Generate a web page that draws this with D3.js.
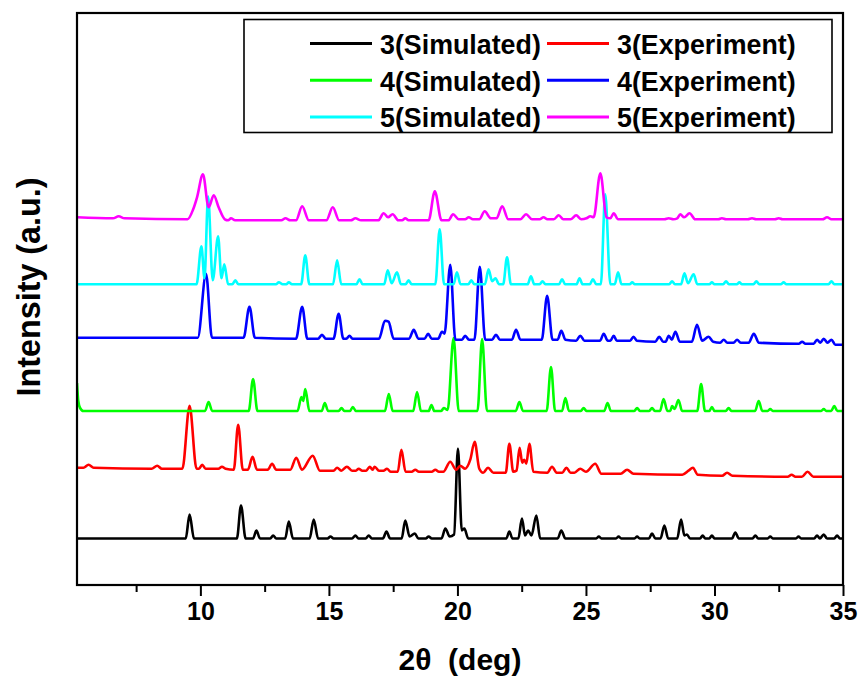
<!DOCTYPE html>
<html>
<head>
<meta charset="utf-8">
<script src="https://cdn.jsdelivr.net/npm/d3@7"></script>
<style>
  body { margin: 0; background: #fff; }
  text { font-family: "Liberation Sans", Arial, sans-serif; font-weight: bold; }
</style>
</head>
<body>
<div id="chart"></div>
<script>
// series names, colours and vertical offsets (a.u.)
var names = ['3(Simulated)', '3(Experiment)', '4(Simulated)', '4(Experiment)', '5(Simulated)', '5(Experiment)'];
var colors = ['#000000', '#ff0000', '#00ff00', '#0000ff', '#00ffff', '#ff00ff'];
var offsets = [46.5, 117.3, 174, 247.3, 300.7, 367.7];
var xTicks = [10, 15, 20, 25, 30, 35];
var xMinor = [7.5, 12.5, 17.5, 22.5, 27.5, 32.5];

// patterns as [2theta, intensity]
var sim3 = [[5.2,0],[9.43,0],[9.58,24],[9.75,0],[11.42,0],[11.58,33],[11.76,0],[12.05,0],[12.18,8],[12.32,0],
  [12.72,0],[12.83,3],[12.95,0],[13.3,0],[13.44,17],[13.6,0],[14.25,0],[14.41,19],[14.58,0],[14.95,0],[15.06,2],[15.18,0],
  [15.9,0],[16.03,3],[16.15,0],[16.43,0],[16.55,3],[16.67,0],[17.1,0],[17.24,7],[17.38,0],[17.83,0],[17.97,18],[18.14,2],
  [18.34,5],[18.48,0],[18.77,0],[18.88,2],[19.0,0],[19.38,0],[19.53,10],[19.7,2],[19.87,4],[20.02,90],[20.17,8],[20.27,10],[20.42,0],
  [21.9,0],[22.02,7],[22.14,0],[22.37,0],[22.51,20],[22.63,3],[22.75,8],[22.88,3],[23.07,23],[23.22,0],[23.9,0],[24.04,8],[24.2,0],
  [25.4,0],[25.5,2],[25.6,0],[26.17,0],[26.27,2],[26.37,0],[26.89,0],[26.99,2],[27.09,0],[27.45,0],[27.57,5],[27.7,0],
  [27.9,0],[28.05,13],[28.2,0],[28.55,0],[28.7,19],[28.83,3],[28.93,4],[29.05,0],[29.44,0],[29.54,3],[29.64,0],
  [29.8,0],[29.9,3],[30.0,0],[30.68,0],[30.81,6],[30.95,0],[31.48,0],[31.59,3],[31.7,0],[32.07,0],[32.17,2],[32.27,0],
  [33.17,0],[33.27,2],[33.37,0],[33.88,0],[33.99,3],[34.1,0],[34.25,4],[34.38,0],[34.66,0],[34.77,3],[34.88,0],[35,0]];

var exp3 = [[5.2,0],[5.45,0],[5.65,3],[5.85,0],[8.1,-1],[8.32,2],[8.5,-1],[9.3,-1],[9.58,62],[9.85,-1],[9.95,-1],[10.07,3],[10.2,-1],
  [10.7,-1],[10.84,1],[10.98,-1],[11.3,-2],[11.47,43],[11.65,-2],[11.85,-2],[12.03,11],[12.2,-2],[12.62,-2],[12.79,4],[12.95,-2],
  [13.5,-2],[13.73,10],[13.95,-2],[14.37,12],[14.65,-3],[15.18,-3],[15.32,0],[15.48,-3],[15.7,1],[15.9,-3],[16.05,-3],[16.16,-1],[16.3,-3],
  [16.45,-3],[16.59,1],[16.7,-2],[16.78,1],[16.95,-3],[17.12,-3],[17.26,-1],[17.4,-4],[17.68,-4],[17.82,18],[17.98,-4],
  [18.22,-4],[18.36,-2],[18.5,-4],[19.0,-4],[19.14,-2],[19.28,-4],[19.45,-4],[19.72,6],[19.95,-2],[20.11,2],[20.3,-1],[20.5,8],
  [20.67,26],[20.85,-1],[21.0,-5],[21.19,0],[21.4,-5],[21.88,-5],[22.02,24],[22.17,-4],[22.3,-3],[22.42,20],[22.52,5],[22.6,8],
  [22.68,4],[22.8,24],[22.95,-4],[23.5,-5],[23.68,1],[23.86,-5],[24.08,-5],[24.24,0],[24.4,-5],[24.55,-5],[24.78,-1],[25.0,-4],
  [25.36,4],[25.6,-6],[26.35,-6],[26.6,-2],[26.85,-6],[28.75,-7],[28.99,-3],[29.16,0],[29.35,-7],[30.3,-8],[30.49,-5],[30.7,-8],
  [32.85,-9],[33.0,-7],[33.15,-9],[33.4,-9],[33.62,-4],[33.85,-9],[35,-9]];

var sim4 = [[5.2,28],[5.25,10],[5.32,3],[5.45,0],[10.18,0],[10.32,9],[10.46,0],[11.88,0],[12.05,32],[12.22,0],
  [13.78,0],[13.93,14],[14.0,10],[14.08,22],[14.24,0],[14.72,0],[14.84,8],[14.97,0],[15.38,0],[15.49,3],[15.6,0],
  [15.82,0],[15.93,4],[16.05,0],[17.18,0],[17.33,17],[17.48,0],[18.28,0],[18.43,19],[18.58,0],[18.88,0],[18.99,6],[19.1,0],
  [19.37,0],[19.47,3],[19.62,1],[19.85,73],[20.05,0],[20.78,0],[20.96,72],[21.15,0],[22.27,0],[22.41,9],[22.55,0],
  [23.47,0],[23.64,44],[23.8,0],[24.07,0],[24.2,13],[24.34,0],[24.8,0],[24.91,3],[25.02,0],[25.71,0],[25.84,8],[25.97,0],
  [26.88,0],[26.99,3],[27.1,0],[27.46,0],[27.57,3],[27.68,0],[27.88,0],[28.02,12],[28.17,0],[28.28,0],[28.35,5],[28.45,2],
  [28.6,11],[28.74,0],[29.33,0],[29.48,27],[29.63,0],[29.8,0],[29.9,4],[30.0,0],[30.44,0],[30.55,3],[30.66,0],
  [31.58,0],[31.72,10],[31.86,0],[32.07,0],[32.17,2],[32.27,0],[34.15,0],[34.25,2],[34.35,0],[34.54,0],[34.66,5],[34.78,0],[35,0]];

var exp4 = [[5.2,0],[9.9,0],[10.22,64],[10.45,0],[11.68,0],[11.91,31],[12.12,0],[13.72,-1],[13.96,31],[14.16,-1],
  [14.58,-1],[14.73,3],[14.88,-1],[15.18,-1],[15.38,24],[15.56,-1],[15.68,-1],[15.8,2],[15.92,-1],[16.95,-1],[17.18,17],
  [17.32,16],[17.52,-1],[18.12,-1],[18.3,8],[18.48,-1],[18.72,-1],[18.86,4],[19.0,-1],[19.25,-1],[19.4,6],[19.5,4],
  [19.72,73],[19.92,-2],[20.18,-2],[20.3,2],[20.45,-2],[20.66,-2],[20.87,71],[21.08,-2],[21.35,-2],[21.5,3],[21.65,-2],
  [22.12,-2],[22.28,8],[22.45,-2],[23.28,-2],[23.49,42],[23.7,-2],[23.9,-2],[24.04,7],[24.2,-2],[24.62,-3],[24.78,2],[24.94,-3],
  [25.55,-3],[25.69,4],[25.85,-3],[25.95,-3],[26.08,2],[26.2,-3],[26.72,-3],[26.85,1],[26.98,-3],[27.7,-4],[27.85,1],
  [28.0,-4],[28.1,-4],[28.22,2],[28.34,-2],[28.48,6],[28.65,-4],[29.12,-4],[29.32,13],[29.52,-3],[29.77,1],[29.95,-4],
  [30.22,-5],[30.36,-2],[30.5,-5],[30.74,-5],[30.88,-2],[31.02,-5],[31.33,-5],[31.53,4],[31.73,-5],[33.28,-6],[33.41,-4],
  [33.54,-6],[33.86,-6],[33.99,-2],[34.12,-5],[34.25,-1],[34.4,-5],[34.55,-2],[34.7,-7],[35,-7]];

var sim5 = [[5.2,0],[9.85,0],[10.04,38],[10.16,6],[10.3,88],[10.48,4],[10.69,48],[10.82,6],[10.93,20],[11.08,0],
  [11.24,0],[11.36,4],[11.48,0],[12.94,0],[13.05,2],[13.2,0],[13.34,0],[13.44,2],[13.56,0],[13.92,0],[14.08,29],[14.24,0],
  [15.16,0],[15.32,24],[15.48,0],[16.07,0],[16.19,5],[16.31,0],[17.15,0],[17.29,14],[17.44,1],[17.65,12],[17.8,0],
  [17.98,0],[18.1,4],[18.22,0],[19.14,0],[19.31,55],[19.48,0],[19.85,0],[19.98,12],[20.12,0],[20.42,0],[20.54,4],[20.66,0],
  [21.07,0],[21.21,15],[21.35,3],[21.48,6],[21.62,0],[21.78,0],[21.93,27],[22.08,0],[22.73,0],[22.86,8],[22.99,0],
  [23.2,0],[23.31,3],[23.42,0],[23.95,0],[24.07,5],[24.19,0],[24.63,0],[24.75,6],[24.87,0],[25.15,0],[25.27,5],[25.4,0],
  [25.58,0],[25.75,90],[25.95,0],[26.12,0],[26.25,12],[26.38,0],[26.7,0],[26.8,2],[26.9,0],[28.24,0],[28.35,3],[28.46,0],
  [28.7,0],[28.83,11],[28.97,1],[29.19,10],[29.33,0],[29.8,0],[29.9,2],[30.0,0],[30.34,0],[30.45,3],[30.56,0],
  [30.87,0],[30.97,2],[31.07,0],[31.52,0],[31.63,3],[31.74,0],[32.58,0],[32.69,2],[32.8,0],[34.44,0],[34.55,3],[34.66,0],[35,0]];

var exp5 = [[5.2,0],[6.6,-1],[6.82,1],[7.05,-1],[9.5,-2],[9.72,8],[9.87,20],[10.1,43],[10.32,10],[10.52,22],
  [10.71,10],[10.95,-2],[11.08,-3],[11.19,-1],[11.35,-3],[13.15,-3],[13.31,-1],[13.5,-3],[13.72,-3],[13.96,11],[14.22,-3],
  [14.9,-3],[15.15,10],[15.4,-3],[15.85,-3],[16.03,-1],[16.25,-3],[16.92,-3],[17.13,4],[17.3,0],[17.48,3],[17.7,-3],
  [17.85,-3],[17.97,-1],[18.1,-3],[18.88,-3],[19.12,26],[19.38,-3],[19.65,-3],[19.83,3],[20.05,-2],[20.3,-2],[20.44,0],
  [20.6,-2],[20.85,-2],[21.06,6],[21.3,-1],[21.52,-1],[21.74,11],[21.98,-2],[22.45,-2],[22.67,3],[22.9,-2],[23.2,-2],
  [23.35,0],[23.5,-2],[23.75,-2],[23.94,2],[24.12,-2],[24.4,-2],[24.62,2],[24.82,-2],[25.02,-1],[25.17,1],[25.3,0],
  [25.56,44],[25.8,0],[25.95,-1],[26.08,4],[26.25,-2],[28.05,-2],[28.22,-1],[28.4,-2],[28.55,-1],[28.67,3],[28.82,0],
  [29.03,4],[29.25,-2],[30.15,-2],[30.29,-1],[30.45,-2],[31.3,-2],[31.46,-1],[31.62,-2],[32.35,-2],[32.5,-1],[32.65,-2],
  [34.2,-2],[34.38,0],[34.55,-2],[35,-2]];

var series = [sim3, exp3, sim4, exp4, sim5, exp5];

// set the dimensions and margins of the graph
var W = 860, H = 678;
var margin = { top: 13, right: 17, bottom: 93, left: 77 },
  width = W - margin.left - margin.right,
  height = H - margin.top - margin.bottom;

var svg = d3
  .select('#chart')
  .append('svg')
  .attr('width', W)
  .attr('height', H);

var x = d3.scaleLinear().domain([5.2, 35]).range([margin.left, margin.left + width]);
var y = d3.scaleLinear().domain([0, 572]).range([margin.top + height, margin.top]);

svg.append('clipPath').attr('id', 'clip')
  .append('rect')
  .attr('x', margin.left).attr('y', margin.top)
  .attr('width', width).attr('height', height);

// the six patterns
series.forEach(function (s, i) {
  var line = d3.line()
    .x(function (d) { return x(d[0]); })
    .y(function (d) { return y(d[1] + offsets[i]); })
    .curve(d3.curveMonotoneX);
  svg.append('path')
    .datum(s)
    .attr('clip-path', 'url(#clip)')
    .attr('d', line)
    .attr('fill', 'none')
    .attr('stroke', colors[i])
    .attr('stroke-width', 2.6)
    .attr('stroke-linejoin', 'round');
});

// bottom axis: major and minor ticks outward
var xAxis = svg.append('g')
  .attr('transform', 'translate(0,' + (margin.top + height) + ')')
  .call(d3.axisBottom(x).tickValues(xTicks).tickSize(11).tickPadding(6).tickFormat(d3.format('d')));
xAxis.select('.domain').remove();
xAxis.selectAll('line').attr('stroke-width', 2);
xAxis.selectAll('text').attr('font-size', 25).attr('fill', '#000').attr('font-family', '"Liberation Sans", Arial, sans-serif');

var minor = svg.append('g')
  .attr('transform', 'translate(0,' + (margin.top + height) + ')')
  .call(d3.axisBottom(x).tickValues(xMinor).tickSize(7).tickFormat(''));
minor.select('.domain').remove();
minor.selectAll('line').attr('stroke-width', 2);

// frame
svg.append('rect')
  .attr('x', margin.left).attr('y', margin.top)
  .attr('width', width).attr('height', height)
  .attr('fill', 'none')
  .attr('stroke', '#000')
  .attr('stroke-width', 2.2);

// axis titles
svg.append('text')
  .attr('x', 460).attr('y', 670)
  .attr('text-anchor', 'middle')
  .attr('font-size', 30)
  .style('white-space', 'pre')
  .text('2θ  (deg)');

svg.append('text')
  .attr('transform', 'translate(40,287) rotate(-90)')
  .attr('text-anchor', 'middle')
  .attr('font-size', 32.3)
  .text('Intensity (a.u.)');

// legend
var legend = svg.append('g');
legend.append('rect')
  .attr('x', 244).attr('y', 19.5)
  .attr('width', 588).attr('height', 113)
  .attr('fill', '#fff')
  .attr('stroke', '#000')
  .attr('stroke-width', 1.6);

names.forEach(function (n, i) {
  var col = i % 2, row = Math.floor(i / 2);
  var lx = col === 0 ? 310 : 547;
  var ly = 43.5 + row * 36.7;
  legend.append('line')
    .attr('x1', lx).attr('x2', lx + 62)
    .attr('y1', ly).attr('y2', ly)
    .attr('stroke', colors[i])
    .attr('stroke-width', 3);
  legend.append('text')
    .attr('x', lx + 70).attr('y', ly + 10.5)
    .attr('font-size', 26.8)
    .text(n);
});
</script>
</body>
</html>
